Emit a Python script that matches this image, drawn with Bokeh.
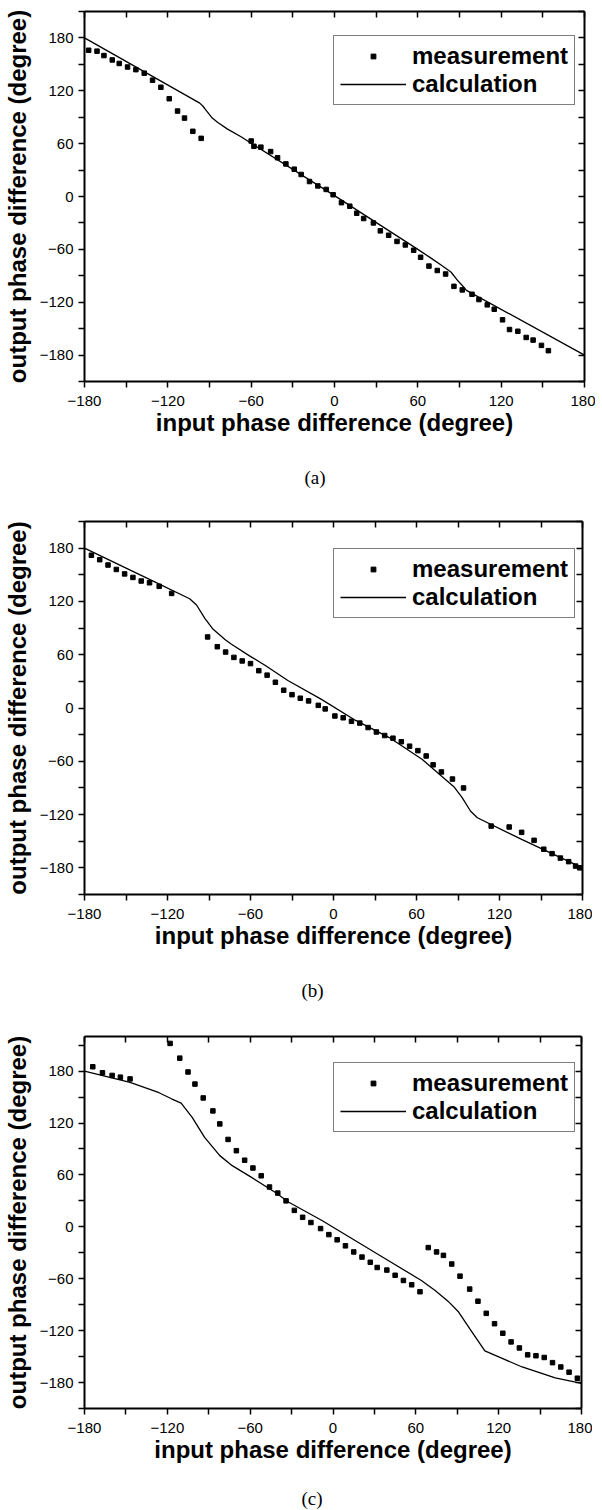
from bokeh.plotting import figure
from bokeh.models import Range1d, FixedTicker, LinearAxis, Legend, LegendItem, Title
from bokeh.layouts import column
from bokeh.embed import file_html
from bokeh.resources import INLINE

# ---------------- data ----------------
X_MAJOR = [-180, -120, -60, 0, 60, 120, 180]
X_MINOR = [-150, -90, -30, 30, 90, 150]
Y_MAJOR = [-180, -120, -60, 0, 60, 120, 180]
Y_MINOR = [-210, -150, -90, -30, 30, 90, 150, 210]
Y_TOPS = [210, 210, 220]

X_LABEL = "input phase difference (degree)"
Y_LABEL = "output phase difference (degree)"
LEGEND_LABELS = ["measurement", "calculation"]
PANEL_TAGS = ["(a)", "(b)", "(c)"]

# panel (a)
meas_a_x = [-177, -171, -166, -160, -155, -149, -143, -137, -131, -125, -119, -113, -108, -102, -96,
            -60, -58, -53, -46, -41, -35, -29, -24, -18, -12, -6, -1, 5, 11, 16, 21, 28, 33, 39, 45,
            51, 57, 62, 68, 74, 80, 86, 92, 99, 104, 110, 115, 121, 126, 132, 138, 143, 149, 154]
meas_a_y = [166, 165, 160, 155, 151, 147, 144, 140, 132, 124, 111, 97, 89, 74, 66,
            63, 57, 56, 51, 44, 37, 31, 25, 17, 12, 8, 2, -7, -11, -19, -25, -30, -39, -44, -51,
            -55, -61, -69, -79, -84, -88, -102, -106, -111, -117, -123, -128, -140, -151, -153, -160, -163, -169, -175]
calc_a_x = [-180, -97, -95, -92, -88, -84, -77, -67, -60, 0, 60, 70, 77, 84, 89, 92, 95, 180]
calc_a_y = [180, 106, 103, 97, 89, 84, 76.5, 67.5, 60.5, 1, -60, -70.5, -78, -86, -96, -101, -106.5, -180]

# panel (b)
meas_b_x = [-175, -169, -163, -157, -151, -145, -139, -133, -126, -117, -91, -84, -78, -72, -66,
            -60, -54, -48, -42, -36, -30, -24, -18, -11, -6, 1, 7, 13, 19, 25, 31, 37, 43, 49, 55,
            61, 67, 72, 78, 86, 94, 114, 127, 136, 145, 152, 158, 164, 170, 175, 178]
meas_b_y = [172, 167, 161, 156, 151, 147, 143, 141, 137, 129, 80, 69, 63, 57, 53,
            50, 42, 37, 29, 20, 15, 11, 8, 3, -1, -9, -11, -15, -17, -22, -27, -31, -34, -38, -43,
            -48, -54, -64, -72, -80, -90, -133, -134, -140, -149, -159, -164, -169, -173, -178, -180]
calc_b_x = [-180, -130, -104, -99, -93, -87, -78, -74, -61, -49, -33, -9, 16, 40, 64, 78, 87, 93, 99, 104, 136, 180]
calc_b_y = [180, 142.5, 123, 116, 101, 88.6, 76.5, 72, 59, 47.6, 31, 10, -14, -33, -57.7, -76.5, -88.6, -101, -116, -123.6, -148, -180]

# panel (c)
meas_c_x = [-174, -167, -160, -154, -147, -118, -111, -105, -100, -94, -87, -82, -76, -70, -64,
            -58, -52, -46, -40, -34, -28, -22, -16, -9, -3, 3, 9, 15, 21, 27, 32, 39, 45, 51, 57,
            63, 69, 75, 80, 86, 92, 99, 105, 111, 117, 123, 129, 135, 141, 147, 153, 159, 165, 171, 177]
meas_c_y = [185, 178, 175, 173, 171, 212, 195, 179, 165, 149, 134, 119, 101, 88, 77,
            68, 59, 46, 39, 30, 19, 11, 5, -2, -9, -15, -22, -29, -35, -41, -47, -50, -56, -62, -67,
            -75, -24, -29, -33, -43, -57, -72, -86, -100, -112, -123, -133, -140, -148, -149, -151, -157, -162, -168, -175]
calc_c_x = [-180, -147, -126, -117, -110, -102, -93, -82, -73, -59, -42, -32, -8, 16, 40, 64, 74, 83.5, 91, 99, 110, 137, 161, 180]
calc_c_y = [180, 167, 155, 148, 143, 126.5, 103.4, 82.3, 70.7, 57.2, 40, 28.4, 7.3, -15.8, -38.9, -62, -73.5, -86.2, -98.5, -117.7, -143.5, -162, -174.7, -181]

MEAS = [(meas_a_x, meas_a_y), (meas_b_x, meas_b_y), (meas_c_x, meas_c_y)]
CALC = [(calc_a_x, calc_a_y), (calc_b_x, calc_b_y), (calc_c_x, calc_c_y)]

# ---------------- layout / style ----------------
# (border_left, frame_w, border_right, border_top, frame_h, border_bottom, tag_offset, tag_standoff)
GEOM = [
    (75, 500, 11, 11, 370, 127, 220, 52),
    (78, 498, 10, 8, 373, 134, 217, 52),
    (78, 497, 11, 8, 372, 106, 217, 41),
]
FONT = "Liberation Sans"


def style_axis(ax, inward, labels):
    ax.axis_line_color = "black"
    ax.axis_line_width = 2
    ax.major_tick_line_color = "black"
    ax.minor_tick_line_color = "black"
    ax.major_tick_line_width = 1.5
    ax.minor_tick_line_width = 1.5
    if inward:
        ax.major_tick_in, ax.major_tick_out = 6, 0
        ax.minor_tick_in, ax.minor_tick_out = 6, 0
    else:
        ax.major_tick_in, ax.major_tick_out = 0, 6
        ax.minor_tick_in, ax.minor_tick_out = 0, 6
    if labels:
        ax.major_label_text_font = FONT
        ax.major_label_text_font_size = "15px"
        ax.major_label_text_color = "black"
        ax.major_label_standoff = 5
        ax.axis_label_text_font = FONT
        ax.axis_label_text_font_size = "24px"
        ax.axis_label_text_font_style = "bold"
        ax.axis_label_text_color = "black"
    else:
        # mirror axis: ticks only, no tick labels drawn
        ax.major_label_text_font_size = "1px"
        ax.major_label_text_color = None
        ax.major_label_standoff = 0
        ax.axis_label = None


def make_panel(i):
    bl, fw, br, bt, fh, bb, toff, tstand = GEOM[i]
    p = figure(frame_width=fw, frame_height=fh,
               x_range=Range1d(-180, 180), y_range=Range1d(-210, Y_TOPS[i]),
               output_backend="svg", toolbar_location=None,
               min_border_left=bl, min_border_right=br,
               min_border_top=bt, min_border_bottom=bb,
               background_fill_color="white", border_fill_color="white",
               outline_line_color=None)
    p.grid.visible = False
    p.xaxis.ticker = FixedTicker(ticks=X_MAJOR, minor_ticks=X_MINOR)
    p.yaxis.ticker = FixedTicker(ticks=Y_MAJOR, minor_ticks=Y_MINOR)
    p.xaxis.axis_label = X_LABEL
    p.yaxis.axis_label = Y_LABEL
    style_axis(p.xaxis[0], False, True)
    style_axis(p.yaxis[0], False, True)
    p.xaxis.major_label_standoff = 8
    p.xaxis.axis_label_standoff = 0
    p.yaxis.axis_label_standoff = 6

    top = LinearAxis(ticker=FixedTicker(ticks=X_MAJOR, minor_ticks=X_MINOR))
    style_axis(top, True, False)
    p.add_layout(top, "above")
    right = LinearAxis(ticker=FixedTicker(ticks=Y_MAJOR, minor_ticks=Y_MINOR))
    style_axis(right, True, False)
    p.add_layout(right, "right")

    mx, my = MEAS[i]
    cx, cy = CALC[i]
    sc = p.scatter(mx, my, marker="square", size=4.5, color="black")
    ln = p.line(cx, cy, line_color="black", line_width=1.3)

    legend = Legend(items=[LegendItem(label=LEGEND_LABELS[0], renderers=[sc]),
                           LegendItem(label=LEGEND_LABELS[1], renderers=[ln])],
                    location=(249, 276), margin=0, padding=6, spacing=0,
                    glyph_width=66, glyph_height=12, label_height=20, label_standoff=6,
                    label_text_font=FONT, label_text_font_style="bold",
                    label_text_font_size="24px", label_text_color="black",
                    border_line_color="black", border_line_width=1,
                    background_fill_color="white", background_fill_alpha=1)
    p.add_layout(legend)

    p.add_layout(Title(text=PANEL_TAGS[i], align="left", offset=toff,
                       text_font="Liberation Serif", text_font_size="19px",
                       text_font_style="normal", text_color="black", standoff=tstand), "below")
    return p


layout = column(make_panel(0), make_panel(1), make_panel(2))
open("out.html", "w").write(file_html(layout, INLINE))
